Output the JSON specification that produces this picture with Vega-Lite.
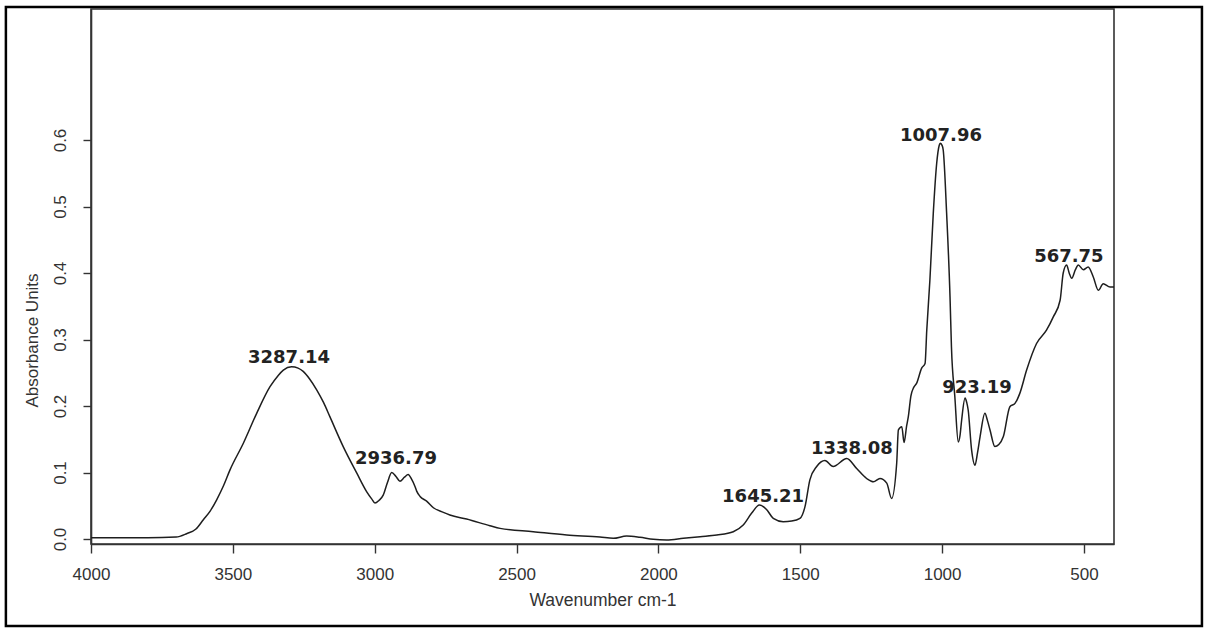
{
  "$schema": "https://vega.github.io/schema/vega-lite/v6.json",
  "width": 1023,
  "height": 535,
  "autosize": {"type": "none"},
  "padding": {"left": 91, "top": 9, "right": 95, "bottom": 84},
  "background": "white",
  "config": {"view": {"stroke": "#333", "strokeWidth": 1.6}},
  "datasets": {
    "spectrum": [
      {"w": 4000, "a": 0.002}, {"w": 3900, "a": 0.002}, {"w": 3800, "a": 0.002}, {"w": 3700, "a": 0.003},
      {"w": 3663, "a": 0.008}, {"w": 3630, "a": 0.015}, {"w": 3604, "a": 0.029}, {"w": 3580, "a": 0.042},
      {"w": 3557, "a": 0.059}, {"w": 3533, "a": 0.080}, {"w": 3510, "a": 0.104}, {"w": 3463, "a": 0.144},
      {"w": 3416, "a": 0.189}, {"w": 3369, "a": 0.229}, {"w": 3340, "a": 0.246}, {"w": 3322, "a": 0.254},
      {"w": 3293, "a": 0.259}, {"w": 3270, "a": 0.257}, {"w": 3252, "a": 0.252}, {"w": 3230, "a": 0.241},
      {"w": 3204, "a": 0.224}, {"w": 3180, "a": 0.205}, {"w": 3158, "a": 0.184}, {"w": 3111, "a": 0.139},
      {"w": 3063, "a": 0.099}, {"w": 3028, "a": 0.071}, {"w": 3010, "a": 0.060}, {"w": 2999, "a": 0.054},
      {"w": 2985, "a": 0.058}, {"w": 2970, "a": 0.066}, {"w": 2955, "a": 0.085}, {"w": 2940, "a": 0.100},
      {"w": 2925, "a": 0.094}, {"w": 2911, "a": 0.087}, {"w": 2895, "a": 0.093}, {"w": 2882, "a": 0.097},
      {"w": 2870, "a": 0.090}, {"w": 2858, "a": 0.079}, {"w": 2852, "a": 0.072}, {"w": 2840, "a": 0.064},
      {"w": 2817, "a": 0.057}, {"w": 2793, "a": 0.047}, {"w": 2758, "a": 0.040}, {"w": 2735, "a": 0.036},
      {"w": 2676, "a": 0.030}, {"w": 2594, "a": 0.020}, {"w": 2558, "a": 0.016}, {"w": 2441, "a": 0.011},
      {"w": 2323, "a": 0.006}, {"w": 2206, "a": 0.003}, {"w": 2159, "a": 0.001}, {"w": 2112, "a": 0.0045},
      {"w": 2065, "a": 0.0026}, {"w": 2018, "a": -0.0005}, {"w": 1971, "a": -0.0015}, {"w": 1912, "a": 0.001},
      {"w": 1853, "a": 0.0035}, {"w": 1794, "a": 0.006}, {"w": 1736, "a": 0.011}, {"w": 1701, "a": 0.021},
      {"w": 1671, "a": 0.039}, {"w": 1644, "a": 0.051}, {"w": 1618, "a": 0.044}, {"w": 1595, "a": 0.031},
      {"w": 1560, "a": 0.026}, {"w": 1530, "a": 0.027}, {"w": 1501, "a": 0.031}, {"w": 1483, "a": 0.049},
      {"w": 1466, "a": 0.089}, {"w": 1442, "a": 0.109}, {"w": 1413, "a": 0.118}, {"w": 1384, "a": 0.109},
      {"w": 1336, "a": 0.121}, {"w": 1301, "a": 0.106}, {"w": 1266, "a": 0.091}, {"w": 1242, "a": 0.086},
      {"w": 1219, "a": 0.091}, {"w": 1195, "a": 0.084}, {"w": 1178, "a": 0.061}, {"w": 1160, "a": 0.114},
      {"w": 1154, "a": 0.164}, {"w": 1142, "a": 0.169}, {"w": 1134, "a": 0.145}, {"w": 1125, "a": 0.170},
      {"w": 1119, "a": 0.184}, {"w": 1110, "a": 0.215}, {"w": 1100, "a": 0.228}, {"w": 1090, "a": 0.234},
      {"w": 1072, "a": 0.257}, {"w": 1060, "a": 0.264}, {"w": 1054, "a": 0.314}, {"w": 1043, "a": 0.389},
      {"w": 1031, "a": 0.490}, {"w": 1019, "a": 0.565}, {"w": 1010, "a": 0.592}, {"w": 1007, "a": 0.595},
      {"w": 1000, "a": 0.592}, {"w": 996, "a": 0.585}, {"w": 984, "a": 0.490}, {"w": 972, "a": 0.364},
      {"w": 967, "a": 0.289}, {"w": 955, "a": 0.214}, {"w": 943, "a": 0.146}, {"w": 937, "a": 0.155},
      {"w": 931, "a": 0.179}, {"w": 919, "a": 0.212}, {"w": 913, "a": 0.205}, {"w": 908, "a": 0.194},
      {"w": 896, "a": 0.134}, {"w": 884, "a": 0.111}, {"w": 875, "a": 0.130}, {"w": 866, "a": 0.154},
      {"w": 849, "a": 0.189}, {"w": 840, "a": 0.178}, {"w": 831, "a": 0.164}, {"w": 814, "a": 0.139},
      {"w": 800, "a": 0.142}, {"w": 784, "a": 0.154}, {"w": 761, "a": 0.199}, {"w": 743, "a": 0.204},
      {"w": 726, "a": 0.219}, {"w": 702, "a": 0.254}, {"w": 667, "a": 0.294}, {"w": 632, "a": 0.314},
      {"w": 608, "a": 0.334}, {"w": 584, "a": 0.359}, {"w": 573, "a": 0.400}, {"w": 561, "a": 0.412},
      {"w": 552, "a": 0.400}, {"w": 543, "a": 0.392}, {"w": 530, "a": 0.405}, {"w": 520, "a": 0.412},
      {"w": 502, "a": 0.405}, {"w": 485, "a": 0.409}, {"w": 467, "a": 0.394}, {"w": 449, "a": 0.374},
      {"w": 432, "a": 0.384}, {"w": 408, "a": 0.379}, {"w": 394, "a": 0.379}
    ],
    "peaks": [
      {"label": "3287.14", "w": 3302, "a": 0.265},
      {"label": "2936.79", "w": 2925, "a": 0.113},
      {"label": "1645.21", "w": 1631, "a": 0.056},
      {"label": "1338.08", "w": 1318, "a": 0.128},
      {"label": "1007.96", "w": 1004, "a": 0.598},
      {"label": "923.19", "w": 877, "a": 0.2195},
      {"label": "567.75", "w": 553, "a": 0.4165}
    ]
  },
  "layer": [
    {
      "data": {"name": "spectrum"},
      "mark": {"type": "line", "color": "#1e1e1e", "strokeWidth": 1.5, "interpolate": "monotone"},
      "encoding": {
        "x": {
          "field": "w", "type": "quantitative",
          "scale": {"domain": [394, 4000], "reverse": true, "nice": false, "zero": false},
          "axis": {
            "values": [4000, 3500, 3000, 2500, 2000, 1500, 1000, 500],
            "format": "d",
            "grid": false, "labelFlush": false,
            "domainColor": "#333", "domainWidth": 1.6,
            "tickColor": "#333", "tickSize": 9, "tickWidth": 1.4,
            "labelFont": "Liberation Sans", "labelFontSize": 17, "labelColor": "#333", "labelPadding": 13,
            "title": "Wavenumber cm-1", "titleFont": "Liberation Sans", "titleFontSize": 17.5,
            "titleFontWeight": "normal", "titleColor": "#333",
            "titleBaseline": "alphabetic", "titleY": 61
          }
        },
        "y": {
          "field": "a", "type": "quantitative",
          "scale": {"domain": [-0.0075, 0.797], "nice": false, "zero": false},
          "axis": {
            "values": [0, 0.1, 0.2, 0.3, 0.4, 0.5, 0.6],
            "format": ".1f", "grid": false, "labelFlush": false,
            "domainColor": "#333", "domainWidth": 1.6,
            "tickColor": "#333", "tickSize": 8, "tickWidth": 1.4,
            "labelFont": "Liberation Sans", "labelFontSize": 17, "labelColor": "#333",
            "labelAngle": 270, "labelAlign": "center", "labelBaseline": "bottom", "labelPadding": 14,
            "title": "Absorbance Units", "titleFont": "Liberation Sans", "titleFontSize": 17,
            "titleFontWeight": "normal", "titleColor": "#333",
            "titleAngle": 270, "titleAlign": "center", "titleBaseline": "alphabetic",
            "titleX": -54, "titleY": 331
          }
        }
      }
    },
    {
      "data": {"name": "peaks"},
      "mark": {"type": "text", "font": "DejaVu Sans", "fontWeight": "bold", "fontSize": 18, "align": "center", "baseline": "alphabetic", "color": "#222"},
      "encoding": {
        "x": {"field": "w", "type": "quantitative"},
        "y": {"field": "a", "type": "quantitative"},
        "text": {"field": "label"}
      }
    },
    {
      "data": {"values": [{}]},
      "mark": {"type": "rect", "filled": false, "stroke": "black", "strokeWidth": 2.5, "clip": false},
      "encoding": {
        "x": {"datum": 4300, "type": "quantitative"},
        "x2": {"datum": 84},
        "y": {"datum": -0.1308, "type": "quantitative"},
        "y2": {"datum": 0.8}
      }
    }
  ]
}
